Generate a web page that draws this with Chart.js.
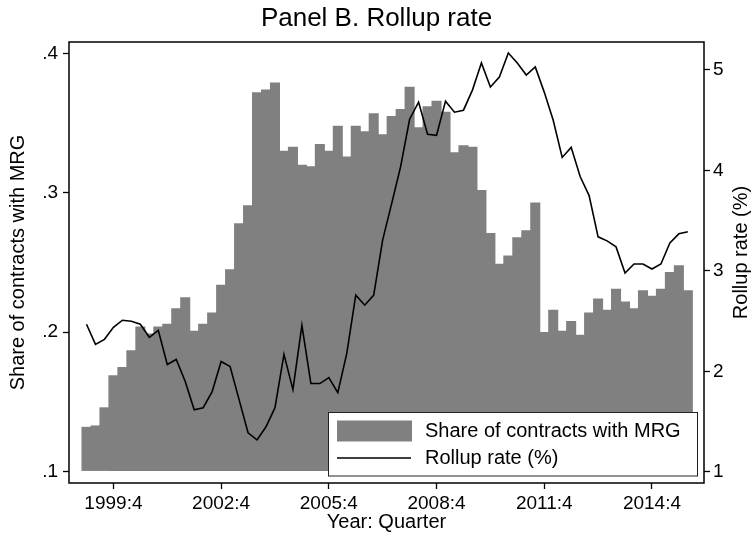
<!DOCTYPE html>
<html>
<head>
<meta charset="utf-8">
<script src="https://cdn.jsdelivr.net/npm/chart.js@4.4.0/dist/chart.umd.min.js"></script>
<style>
    html, body { margin: 0; padding: 0; background: #fff; }
    #chart { display: block; }
</style>
</head>
<body>
<canvas id="chart" width="753" height="533"></canvas>
<script>
// quarters (one bar / one line point each)
const quarters = [
    '1999:1', '1999:2', '1999:3', '1999:4',
    '2000:1', '2000:2', '2000:3', '2000:4',
    '2001:1', '2001:2', '2001:3', '2001:4',
    '2002:1', '2002:2', '2002:3', '2002:4',
    '2003:1', '2003:2', '2003:3', '2003:4',
    '2004:1', '2004:2', '2004:3', '2004:4',
    '2005:1', '2005:2', '2005:3', '2005:4',
    '2006:1', '2006:2', '2006:3', '2006:4',
    '2007:1', '2007:2', '2007:3', '2007:4',
    '2008:1', '2008:2', '2008:3', '2008:4',
    '2009:1', '2009:2', '2009:3', '2009:4',
    '2010:1', '2010:2', '2010:3', '2010:4',
    '2011:1', '2011:2', '2011:3', '2011:4',
    '2012:1', '2012:2', '2012:3', '2012:4',
    '2013:1', '2013:2', '2013:3', '2013:4',
    '2014:1', '2014:2', '2014:3', '2014:4',
    '2015:1', '2015:2', '2015:3', '2015:4'
];

// share of contracts with MRG (left axis)
const mrgShare = [
    0.132, 0.133, 0.146, 0.169, 0.175, 0.187, 0.204, 0.199, 0.204, 0.206,
    0.217, 0.225, 0.201, 0.206, 0.214, 0.234, 0.245, 0.278, 0.291, 0.372,
    0.374, 0.379, 0.330, 0.333, 0.320, 0.319, 0.335, 0.330, 0.348, 0.326,
    0.348, 0.344, 0.357, 0.342, 0.355, 0.360, 0.376, 0.347, 0.362, 0.366,
    0.358, 0.329, 0.334, 0.333, 0.302, 0.271, 0.249, 0.255, 0.268, 0.273,
    0.293, 0.200, 0.216, 0.201, 0.208, 0.198, 0.214, 0.224, 0.216, 0.231,
    0.222, 0.217, 0.230, 0.226, 0.231, 0.243, 0.248, 0.230
];

// rollup rate in % (right axis)
const rollupRate = [
    2.47, 2.27, 2.32, 2.44, 2.51, 2.50, 2.47, 2.34, 2.41, 2.07,
    2.12, 1.90, 1.62, 1.64, 1.80, 2.10, 2.05, 1.72, 1.39, 1.32,
    1.45, 1.64, 2.17, 1.82, 2.46, 1.88, 1.88, 1.94, 1.79, 2.18,
    2.76, 2.66, 2.76, 3.31, 3.67, 4.04, 4.51, 4.68, 4.36, 4.35,
    4.69, 4.58, 4.60, 4.80, 5.07, 4.83, 4.93, 5.17, 5.07, 4.95,
    5.03, 4.78, 4.50, 4.13, 4.23, 3.94, 3.75, 3.34, 3.30, 3.24,
    2.98, 3.07, 3.07, 3.02, 3.07, 3.28, 3.37, 3.39
];

const xTickLabels = ['1999:4', '2002:4', '2005:4', '2008:4', '2011:4', '2014:4'];
const leftTicks = [0.1, 0.2, 0.3, 0.4];
const rightTicks = [1, 2, 3, 4, 5];
const rightTitle = 'Rollup rate (%)';

const FONT = '"Liberation Sans", Arial, Helvetica, sans-serif';
Chart.defaults.font.family = FONT;
Chart.defaults.color = '#000';

// frame around the plot region (Stata style box) + right axis title read bottom-up
const framePlugin = {
    id: 'frame',
    afterDraw(chart) {
        const { ctx, chartArea: a } = chart;
        ctx.save();
        ctx.strokeStyle = '#000';
        ctx.lineWidth = 1.5;
        ctx.strokeRect(a.left, a.top, a.right - a.left, a.bottom - a.top);

        ctx.translate(741, (a.top + a.bottom) / 2 - 10);
        ctx.rotate(-Math.PI / 2);
        ctx.font = '20px ' + FONT;
        ctx.fillStyle = '#000';
        ctx.textAlign = 'center';
        ctx.textBaseline = 'middle';
        ctx.fillText(rightTitle, 0, 0);
        ctx.restore();
    }
};

// legend box inside the plot, lower right
const boxLegend = {
    id: 'boxLegend',
    afterDatasetsDraw(chart) {
        const ctx = chart.ctx;
        const bx = 328.5, by = 412.5, bw = 369, bh = 63.5;
        ctx.save();
        ctx.fillStyle = '#fff';
        ctx.fillRect(bx, by, bw, bh);
        ctx.strokeStyle = '#222';
        ctx.lineWidth = 1;
        ctx.strokeRect(bx, by, bw, bh);
        ctx.font = '20px ' + FONT;
        ctx.textBaseline = 'middle';
        const rows = [431, 458];
        chart.data.datasets.forEach((ds, k) => {
            const cy = rows[k];
            if (ds.type === 'line') {
                ctx.strokeStyle = ds.borderColor;
                ctx.lineWidth = ds.borderWidth;
                ctx.beginPath();
                ctx.moveTo(337, cy);
                ctx.lineTo(411, cy);
                ctx.stroke();
            } else {
                ctx.fillStyle = ds.backgroundColor;
                ctx.fillRect(337, cy - 10.5, 75, 21);
            }
            ctx.fillStyle = '#000';
            ctx.fillText(ds.label, 425, cy);
        });
        ctx.restore();
    }
};

new Chart(document.getElementById('chart'), {
    type: 'bar',
    data: {
        datasets: [
            {
                type: 'bar',
                label: 'Share of contracts with MRG',
                data: mrgShare.map((v, i) => ({ x: i, y: v })),
                yAxisID: 'y',
                base: 0.1,
                backgroundColor: '#808080',
                borderWidth: 0,
                barPercentage: 1.12,
                categoryPercentage: 1,
                order: 1
            },
            {
                type: 'line',
                label: 'Rollup rate (%)',
                data: rollupRate.map((v, i) => ({ x: i, y: v })),
                yAxisID: 'y2',
                borderColor: '#000',
                borderWidth: 1.6,
                pointRadius: 0,
                tension: 0,
                order: 0
            }
        ]
    },
    options: {
        responsive: false,
        animation: false,
        layout: { padding: 0 },
        plugins: {
            legend: { display: false },
            tooltip: { enabled: false },
            title: {
                display: true,
                text: 'Panel B. Rollup rate',
                color: '#000',
                font: { size: 26, weight: 'normal', lineHeight: 1.2 },
                padding: { top: 3, bottom: 7.8 }
            }
        },
        scales: {
            x: {
                type: 'linear',
                offset: false,
                min: -1.95,
                max: 68.8,
                afterBuildTicks: s => { s.ticks = xTickLabels.map(l => ({ value: quarters.indexOf(l) })); },
                afterFit: s => { s.height = 50; },
                ticks: {
                    autoSkip: false,
                    maxRotation: 0,
                    padding: 3,
                    font: { size: 19 },
                    callback: v => quarters[v] ?? ''
                },
                grid: { offset: false, drawOnChartArea: false, tickLength: 6, tickColor: '#000', tickWidth: 1.3 },
                border: { display: false },
                title: {
                    display: true,
                    text: 'Year: Quarter',
                    font: { size: 20, lineHeight: 1 },
                    padding: { top: 0, bottom: 1 }
                }
            },
            y: {
                position: 'left',
                min: 0.0917,
                max: 0.4081,
                afterBuildTicks: s => { s.ticks = leftTicks.map(v => ({ value: v })); },
                afterFit: s => { s.width = 69; },
                ticks: {
                    padding: 5,
                    font: { size: 19, lineHeight: 1 },
                    callback: v => v.toFixed(1).replace(/^0/, '')
                },
                grid: { drawOnChartArea: false, tickLength: 6, tickColor: '#000', tickWidth: 1.3 },
                border: { display: false },
                title: {
                    display: true,
                    text: 'Share of contracts with MRG',
                    font: { size: 20, lineHeight: 1.2 },
                    padding: { top: 6, bottom: 0 }
                }
            },
            y2: {
                position: 'right',
                min: 0.8905,
                max: 5.2786,
                afterBuildTicks: s => { s.ticks = rightTicks.map(v => ({ value: v })); },
                afterFit: s => { s.width = 49; },
                ticks: {
                    padding: 3,
                    font: { size: 19, lineHeight: 1 },
                    callback: v => String(v)
                },
                grid: { drawOnChartArea: false, tickLength: 6, tickColor: '#000', tickWidth: 1.3 },
                border: { display: false },
                title: { display: false }
            }
        }
    },
    plugins: [boxLegend, framePlugin]
});
</script>
</body>
</html>
